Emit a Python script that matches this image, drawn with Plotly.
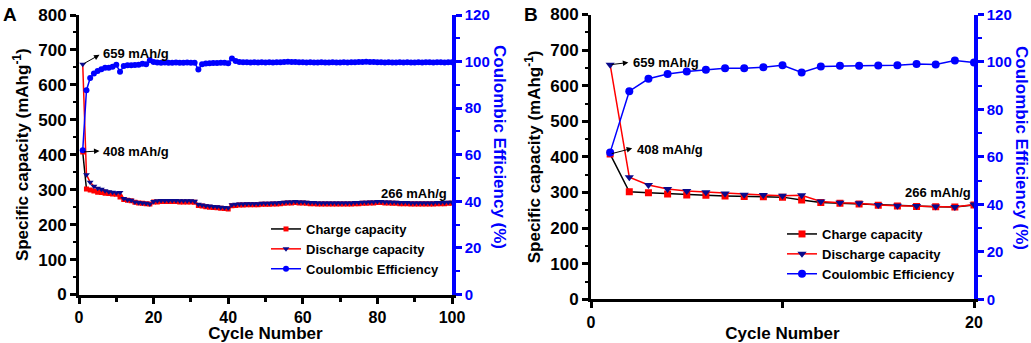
import plotly.graph_objects as go

# ---------------- data ----------------
cycles_a = list(range(1, 101))
cycles_b = list(range(1, 21))

charge_b = [408, 302, 299, 296, 293, 292, 290, 289, 288, 287,
            279, 272, 270, 268, 264, 262, 261, 260, 259, 265]
discharge_b = [659, 343, 321, 310, 304, 301, 297, 294, 293, 291,
               292, 275, 271, 270, 265, 263, 262, 261, 259, 266]
ce_b = [61.9, 87.7, 92.9, 94.9, 96.0, 96.7, 97.3, 97.4, 97.8, 98.6,
        95.6, 98.1, 98.4, 98.4, 98.5, 98.6, 99.1, 98.9, 100.6, 99.8]

charge_a = charge_b + [
    265, 266, 266, 266, 266, 266, 265, 265, 265, 265, 264,
    255, 253, 251, 250, 249, 248, 247, 246, 245,
    254, 255, 256, 256, 257, 257, 257, 257, 258, 258,
    258, 259, 259, 260, 261, 262, 262, 263, 262, 262,
    261, 260, 260, 259, 259, 259, 259, 259, 259, 259,
    259, 259, 259, 260, 260, 261, 261, 262, 262, 263,
    263, 262, 262, 261, 261, 260, 260, 260, 259, 259,
    259, 259, 259, 259, 259, 260, 260, 260, 261, 261]
discharge_a = discharge_b + [
    268, 269, 269, 269, 269, 269, 268, 268, 268, 268, 267,
    258, 256, 254, 253, 252, 251, 250, 249, 248,
    257, 258, 259, 259, 260, 260, 260, 260, 261, 261,
    261, 262, 262, 263, 264, 265, 265, 266, 265, 265,
    264, 263, 263, 262, 262, 262, 262, 262, 262, 262,
    262, 262, 262, 263, 263, 264, 264, 265, 265, 266,
    266, 265, 265, 264, 264, 263, 263, 263, 262, 262,
    262, 262, 262, 262, 262, 263, 263, 263, 264, 264]
ce_a = ce_b + [
    99.6, 99.5, 99.6, 99.5, 99.5, 99.6, 99.5, 99.5, 99.6, 99.5, 99.5,
    96.6, 98.9, 99.2, 99.3, 99.4, 99.4, 99.5, 99.5, 99.3,
    101.3, 100.2, 99.8, 99.7, 99.7, 99.6, 99.7, 99.6, 99.7, 99.6,
    99.7, 99.6, 99.7, 99.7, 99.8, 99.9, 99.8, 99.8, 99.7, 99.7,
    99.6, 99.7, 99.6, 99.6, 99.7, 99.6, 99.6, 99.7, 99.6, 99.6,
    99.7, 99.6, 99.7, 99.7, 99.8, 99.8, 99.9, 99.8, 99.8, 99.7,
    99.7, 99.6, 99.7, 99.6, 99.6, 99.7, 99.6, 99.7, 99.6, 99.6,
    99.7, 99.6, 99.7, 99.7, 99.6, 99.7, 99.7, 99.6, 99.7, 99.7]

cap_ticks = [0, 100, 200, 300, 400, 500, 600, 700, 800]
ce_ticks = [0, 20, 40, 60, 80, 100, 120]
xa_ticks = [0, 20, 40, 60, 80, 100]
xb_ticks = [0, 20]
xb_unlabeled_ticks = [10]

series_names = ["Charge capacity", "Discharge capacity", "Coulombic Efficiency"]
label_first_dis = "659 mAh/g"
label_first_cha = "408 mAh/g"
label_last = "266 mAh/g"

# ---------------- styling ----------------
FONT = "Liberation Sans, Arial, sans-serif"
RED = "#ff0000"
NAVY = "#0a0a8c"
BLUE = "#0000ff"
BLACK = "#000000"
W, H = 1031, 343


def px_x(p):
    return p / W


def px_y(p):
    return 1 - p / H


fig = go.Figure()

# Panel A
fig.add_trace(go.Scatter(x=cycles_a, y=charge_a, name=series_names[0], mode="lines+markers",
                         line=dict(color=BLACK, width=1.5),
                         marker=dict(symbol="square", color=RED, size=5),
                         xaxis="x", yaxis="y", legend="legend"))
fig.add_trace(go.Scatter(x=cycles_a, y=discharge_a, name=series_names[1], mode="lines+markers",
                         line=dict(color=RED, width=1.5),
                         marker=dict(symbol="triangle-down", color=NAVY, size=6),
                         xaxis="x", yaxis="y", legend="legend"))
fig.add_trace(go.Scatter(x=cycles_a, y=ce_a, name=series_names[2], mode="lines+markers",
                         line=dict(color=BLUE, width=1.5),
                         marker=dict(symbol="circle", color=BLUE, size=6),
                         xaxis="x", yaxis="y2", legend="legend"))

# Panel B
fig.add_trace(go.Scatter(x=cycles_b, y=charge_b, name=series_names[0], mode="lines+markers",
                         line=dict(color=BLACK, width=1.5),
                         marker=dict(symbol="square", color=RED, size=7),
                         xaxis="x2", yaxis="y3", legend="legend2"))
fig.add_trace(go.Scatter(x=cycles_b, y=discharge_b, name=series_names[1], mode="lines+markers",
                         line=dict(color=RED, width=1.5),
                         marker=dict(symbol="triangle-down", color=NAVY, size=8),
                         xaxis="x2", yaxis="y3", legend="legend2"))
fig.add_trace(go.Scatter(x=cycles_b, y=ce_b, name=series_names[2], mode="lines+markers",
                         line=dict(color=BLUE, width=1.5),
                         marker=dict(symbol="circle", color=BLUE, size=8),
                         xaxis="x2", yaxis="y4", legend="legend2"))

tick_font = dict(family=FONT, size=17, color=BLACK, weight="bold")
xtick_font = dict(family=FONT, size=16, color=BLACK, weight="bold")
rtick_font = dict(family=FONT, size=15, color=BLUE, weight="bold")
title_font = dict(family=FONT, size=17, color=BLACK, weight="bold")

A_dom_x = [px_x(79), px_x(452)]
A_dom_y = [px_y(294.5), px_y(15)]
B_dom_x = [px_x(591), px_x(974)]
B_dom_y = [px_y(299.3), px_y(14.5)]


def xaxis(dom, rng, tickvals, minor, anchor):
    return dict(domain=dom, range=rng, anchor=anchor, tickmode="array", tickvals=tickvals,
                ticks="outside", ticklen=6, tickwidth=2.5, tickcolor=BLACK,
                minor=minor,
                showline=True, linewidth=3, linecolor=BLACK, showgrid=False, zeroline=False,
                tickfont=xtick_font, automargin=False,
                title=dict(text="Cycle Number", font=title_font, standoff=3))


def xtop(dom, rng, tickvals, overlay):
    return dict(domain=dom, range=rng, overlaying=overlay, side="top", tickmode="array",
                tickvals=tickvals, ticks="inside", ticklen=6, tickwidth=2.5, tickcolor=BLACK,
                showticklabels=False, showline=True, linewidth=3, linecolor=BLACK,
                showgrid=False, zeroline=False, automargin=False)


def yleft(dom, anchor):
    return dict(domain=dom, range=[0, 800], anchor=anchor, tickmode="array", tickvals=cap_ticks,
                ticks="outside", ticklen=6, tickwidth=2.5, tickcolor=BLACK,
                minor=dict(ticks="outside", ticklen=3, tickwidth=2, tickcolor=BLACK, dtick=50),
                showline=True, linewidth=3, linecolor=BLACK, showgrid=False, zeroline=False,
                tickfont=tick_font, automargin=False,
                title=dict(text="Specific capacity (mAhg<sup>-1</sup>)", font=title_font, standoff=6))


def yright(overlay, anchor):
    return dict(range=[0, 120], overlaying=overlay, anchor=anchor, side="right", tickmode="array",
                tickvals=ce_ticks, ticks="outside", ticklen=6, tickwidth=2.5, tickcolor=BLUE,
                minor=dict(ticks="outside", ticklen=4, tickwidth=2, tickcolor=BLUE, dtick=10),
                showline=True, linewidth=3.5, linecolor=BLUE, showgrid=False, zeroline=False,
                tickfont=rtick_font, automargin=False)


legend_common = dict(font=dict(family=FONT, size=13, color=BLACK, weight="bold"),
                     bgcolor="rgba(0,0,0,0)", borderwidth=0, xanchor="left", yanchor="top",
                     tracegroupgap=0, itemwidth=30)

fig.update_layout(
    width=W, height=H,
    margin=dict(l=0, r=0, t=0, b=0),
    paper_bgcolor="white", plot_bgcolor="white",
    font=dict(family=FONT),
    showlegend=True,
    xaxis=xaxis(A_dom_x, [0, 100], xa_ticks,
                dict(ticks="outside", ticklen=4, tickwidth=2.5, tickcolor=BLACK, dtick=10), "y"),
    xaxis3=xtop(A_dom_x, [0, 100], xa_ticks, "x"),
    yaxis=yleft(A_dom_y, "x"),
    yaxis2=yright("y", "x"),
    xaxis2=xaxis(B_dom_x, [0, 20], xb_ticks,
                 dict(ticks="outside", ticklen=6, tickwidth=2.5, tickcolor=BLACK,
                      tickmode="array", tickvals=xb_unlabeled_ticks), "y3"),
    xaxis4=xtop(B_dom_x, [0, 20], xb_ticks + xb_unlabeled_ticks, "x2"),
    yaxis3=yleft(B_dom_y, "x2"),
    yaxis4=yright("y3", "x2"),
    legend=dict(x=px_x(266), y=px_y(214), **legend_common),
    legend2=dict(x=px_x(782), y=px_y(219), **legend_common),
)

ann = []
# panel letters
ann.append(dict(text="A", x=px_x(1), y=px_y(2), xref="paper", yref="paper", xanchor="left",
                yanchor="top", showarrow=False, font=dict(family=FONT, size=19, color=BLACK, weight="bold")))
ann.append(dict(text="B", x=px_x(522), y=px_y(2), xref="paper", yref="paper", xanchor="left",
                yanchor="top", showarrow=False, font=dict(family=FONT, size=19, color=BLACK, weight="bold")))
# right axis titles
for xc, yc in [(500, 147), (1022, 148)]:
    ann.append(dict(text="Coulombic Efficiency (%)", x=px_x(xc), y=px_y(yc), xref="paper", yref="paper",
                    xanchor="center", yanchor="middle", textangle=90, showarrow=False,
                    font=dict(family=FONT, size=17, color=BLUE, weight="bold")))

lab_font = dict(family=FONT, size=13, color=BLACK, weight="bold")


def point_label(xr, yr, text_x, text_y, head_x, head_y, tail_x, tail_y, text):
    ann.append(dict(text=text, x=text_x, y=text_y, xref=xr, yref=yr, xanchor="left", yanchor="middle",
                    showarrow=False, font=lab_font))
    ann.append(dict(text="", x=head_x, y=head_y, ax=tail_x, ay=tail_y, xref=xr, yref=yr, axref=xr, ayref=yr,
                    showarrow=True, arrowhead=2, arrowsize=1.1, arrowwidth=1, arrowcolor=BLACK))


# Panel A labels
point_label("x", "y", 5.9, 689, 5.5, 686, cycles_a[0], discharge_a[0], label_first_dis)
point_label("x", "y", 5.9, 410, 5.5, 411, cycles_a[0], charge_a[0], label_first_cha)
ann.append(dict(text=label_last, x=99.3, y=289, xref="x", yref="y", xanchor="right", yanchor="middle",
                showarrow=False, font=lab_font))
# Panel B labels
point_label("x2", "y3", 2.1, 666, 1.95, 665, cycles_b[0], discharge_b[0], label_first_dis)
point_label("x2", "y3", 2.3, 420, 2.15, 424, cycles_b[0], charge_b[0], label_first_cha)
ann.append(dict(text=label_last, x=19.97, y=300, xref="x2", yref="y3", xanchor="right", yanchor="middle",
                showarrow=False, font=lab_font))

fig.update_layout(annotations=ann)
fig.write_html("out.html", config={"displayModeBar": False},
               post_script="document.body.style.margin='0px';")
